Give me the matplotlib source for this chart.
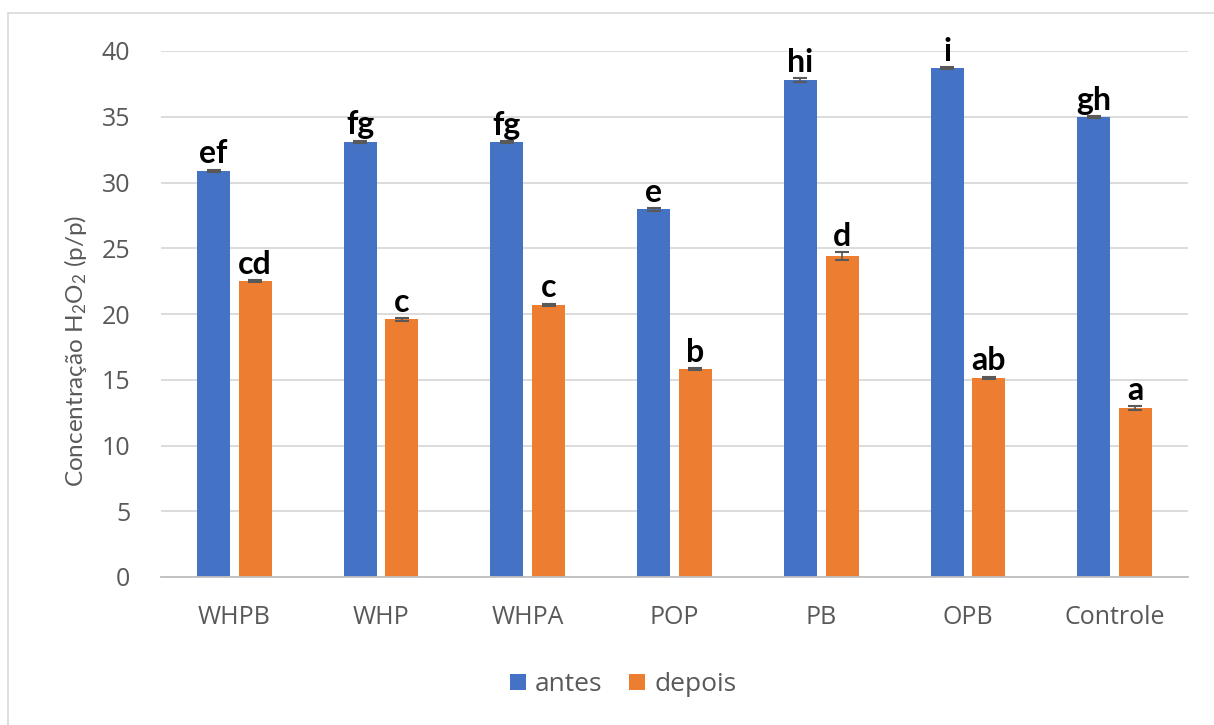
import numpy as np
import matplotlib.pyplot as plt
from matplotlib.patches import Rectangle

plt.rcParams['font.family'] = ['Open Sans', 'DejaVu Sans']
plt.rcParams['mathtext.default'] = 'regular'

categories = ['WHPB', 'WHP', 'WHPA', 'POP', 'PB', 'OPB', 'Controle']
antes = [30.9, 33.1, 33.05, 27.95, 37.8, 38.7, 34.95]
depois = [22.5, 19.6, 20.7, 15.8, 24.4, 15.15, 12.85]
antes_err = [0.08, 0.08, 0.08, 0.08, 0.12, 0.08, 0.08]
depois_err = [0.08, 0.1, 0.08, 0.08, 0.3, 0.08, 0.12]
antes_letters = ['ef', 'fg', 'fg', 'e', 'hi', 'i', 'gh']
depois_letters = ['cd', 'c', 'c', 'b', 'd', 'ab', 'a']

blue = '#4472C4'
orange = '#ED7D31'
grey_text = '#595959'

fig = plt.figure(figsize=(12.14, 7.25), dpi=100)
fig.patches.append(Rectangle((8 / 1214, -0.1), 1.2, 1 - 13 / 725 + 0.1,
                             transform=fig.transFigure, fill=False,
                             edgecolor='#D9D9D9', linewidth=1.2))
ax = fig.add_axes([161 / 1214, 1 - 577 / 725, (1188 - 161) / 1214, (577 - 51) / 725])

x = np.arange(len(categories))
w = 0.225
off = 0.142
ekw = dict(ecolor='#595959', elinewidth=1.2, capsize=5, capthick=1.5)
ax.bar(x - off, antes, w, color=blue, yerr=antes_err, error_kw=ekw, label='antes', zorder=2)
ax.bar(x + off, depois, w, color=orange, yerr=depois_err, error_kw=ekw, label='depois', zorder=2)

# significance letters above each bar
letter_font = dict(ha='center', va='bottom', fontsize=23, fontweight='bold',
                   family=['Lato', 'DejaVu Sans'], color='black')
for xi, v, e, t in zip(x - off, antes, antes_err, antes_letters):
    ax.text(xi, v + e + 0.1, t, **letter_font)
for xi, v, e, t in zip(x + off, depois, depois_err, depois_letters):
    ax.text(xi, v + e + 0.1, t, **letter_font)

ax.set_xlim(-0.5, len(categories) - 0.5)
ax.set_ylim(0, 40)
ax.set_yticks(range(0, 41, 5))
ax.set_xticks(x)
ax.set_xticklabels(categories)
ax.tick_params(axis='both', length=0, labelsize=18, labelcolor=grey_text)
ax.tick_params(axis='y', pad=22)
ax.tick_params(axis='x', pad=20)
ax.yaxis.grid(True, color='#D9D9D9', linewidth=1.3, zorder=0)
ax.set_axisbelow(True)
for s in ['top', 'right', 'left']:
    ax.spines[s].set_visible(False)
ax.spines['bottom'].set_color('#BFBFBF')
ax.spines['bottom'].set_linewidth(1.3)

ax.set_ylabel('Concentração H$_2$O$_2$ (p/p)', fontsize=17.5, color=grey_text,
              family=['Lato', 'DejaVu Sans'])
ax.yaxis.set_label_coords(-0.07, 0.43)

ax.legend(loc='center', bbox_to_anchor=(0.45, -0.205), ncol=2, frameon=False,
          fontsize=19, labelcolor=grey_text, handlelength=0.6, handleheight=0.6,
          handletextpad=0.35, columnspacing=1.0)

fig.savefig('out.png', dpi=100, facecolor='white')
